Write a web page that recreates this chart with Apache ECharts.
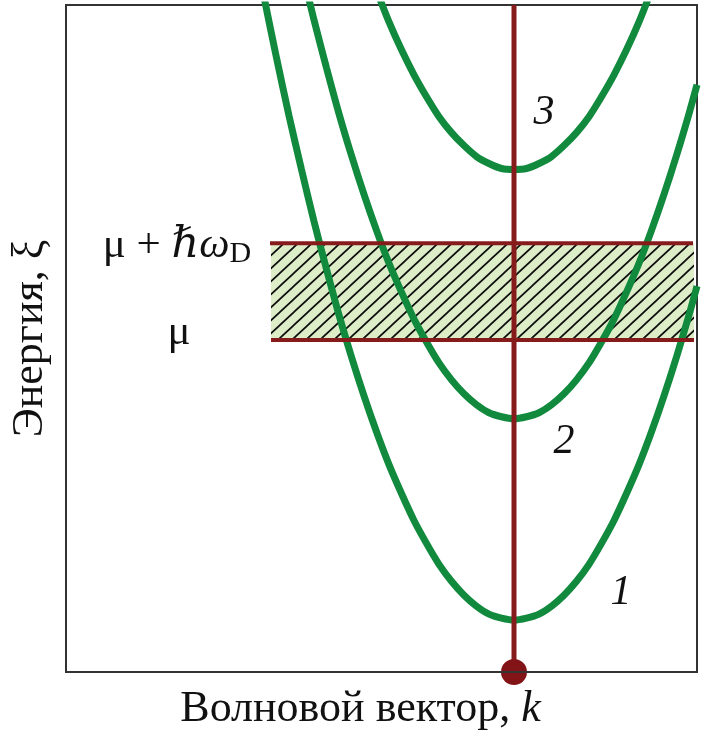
<!DOCTYPE html>
<html>
<head>
<meta charset="utf-8">
<script src="https://cdn.jsdelivr.net/npm/echarts@6/dist/echarts.min.js"></script>
<style>html,body{margin:0;padding:0;background:#fff}#c{width:704px;height:736px}</style>
</head>
<body>
<div id="c"></div>
<script>
// Wave vector k (arbitrary units, k = 0 at the vertical line) and energy ξ (arbitrary units)
const kRange = [-4.48, 1.83];
const energyRange = [0, 6.69];

// Dispersion branches: [k, ξ]
const branch1 = [[-2.5,6.77],[-2.375,6.16],[-2.25,5.58],[-2.125,5.04],[-2.0,4.52],[-1.875,4.04],[-1.75,3.58],[-1.625,3.16],[-1.5,2.77],[-1.375,2.41],[-1.25,2.08],[-1.125,1.79],[-1.0,1.52],[-0.875,1.29],[-0.75,1.08],[-0.625,0.91],[-0.5,0.77],[-0.375,0.66],[-0.25,0.58],[-0.125,0.54],[0,0.52],[0.125,0.54],[0.25,0.58],[0.375,0.66],[0.5,0.77],[0.625,0.91],[0.75,1.08],[0.875,1.29],[1.0,1.52],[1.125,1.79],[1.25,2.08],[1.375,2.41],[1.5,2.77],[1.625,3.16],[1.75,3.58],[1.83,3.87]];
const branch2 = [[-2.125,7.06],[-2.0,6.54],[-1.875,6.06],[-1.75,5.60],[-1.625,5.18],[-1.5,4.79],[-1.375,4.43],[-1.25,4.10],[-1.125,3.81],[-1.0,3.54],[-0.875,3.31],[-0.75,3.10],[-0.625,2.93],[-0.5,2.79],[-0.375,2.68],[-0.25,2.60],[-0.125,2.56],[0,2.54],[0.125,2.56],[0.25,2.60],[0.375,2.68],[0.5,2.79],[0.625,2.93],[0.75,3.10],[0.875,3.31],[1.0,3.54],[1.125,3.81],[1.25,4.10],[1.375,4.43],[1.5,4.79],[1.625,5.18],[1.75,5.60],[1.83,5.89]];
const branch3 = [[-1.5,7.18],[-1.375,6.84],[-1.25,6.52],[-1.125,6.24],[-1.0,5.99],[-0.875,5.77],[-0.75,5.57],[-0.625,5.41],[-0.5,5.28],[-0.375,5.17],[-0.25,5.10],[-0.125,5.05],[0,5.04],[0.125,5.05],[0.25,5.10],[0.375,5.17],[0.5,5.28],[0.625,5.41],[0.75,5.57],[0.875,5.77],[1.0,5.99],[1.125,6.24],[1.25,6.52],[1.375,6.84],[1.5,7.18]];

// Energy window μ … μ + ħω_D
const bandEnergy = [3.33, 4.30];
const bandK = [-2.43, 1.80];

// Texts and their anchor points [k, ξ]
const branchLabelPos = [[1.07, 0.79], [0.50, 2.31], [0.30, 5.61]];
const branchLabelText = ['1', '2', '3'];
const levelLabelPos = [[-3.37, 4.28], [-3.35, 3.40]];
const levelLabelText = ['{a|μ + }{h|ℏω}{s|D}', '{a|μ}'];
const xTitle = '{a|Волновой вектор, }{i|k}';
const yTitle = 'Энергия, ξ';

const SERIF = "'Liberation Serif', 'DejaVu Serif', 'Times New Roman', serif";
const GREEN = '#118a3e';
const RED = '#861b1b';
const INK = '#111';

// hatch pattern
const tile = document.createElement('canvas');
const tw = 14, th = 13;
tile.width = tw; tile.height = th;
const g = tile.getContext('2d');
g.fillStyle = '#dcedc8';
g.fillRect(0, 0, tw, th);
g.strokeStyle = '#0d0d0d';
g.lineWidth = 1.7;
g.beginPath();
for (let n = -1; n <= 1; n++) {
  g.moveTo(-tw + n * tw, 2 * th);
  g.lineTo(2 * tw + n * tw, -th);
}
g.stroke();
const hatch = { image: tile, repeat: 'repeat' };

const chart = echarts.init(document.getElementById('c'));
const greenLine = (data) => ({
  type: 'line', data, smooth: 0.3, showSymbol: false, symbol: 'none',
  lineStyle: { color: GREEN, width: 7 }, z: 3, silent: true
});
const textSeries = (pos, texts, style) => ({
  type: 'custom', z: 8, silent: true, clip: false,
  data: pos,
  renderItem: (params, api) => {
    const p = api.coord([api.value(0), api.value(1)]);
    return { type: 'text', x: p[0], y: p[1], style: Object.assign({ text: texts[params.dataIndex], align: 'center', verticalAlign: 'middle' }, style) };
  }
});

chart.setOption({
  animation: false,
  grid: { left: 66, top: 5, right: 7, bottom: 62, show: true, borderColor: '#333', borderWidth: 2, backgroundColor: '#fff' },
  xAxis: {
    type: 'value', min: kRange[0], max: kRange[1],
    axisLine: { show: false }, axisTick: { show: false }, axisLabel: { show: false }, splitLine: { show: false },
    name: xTitle, nameLocation: 'middle', nameGap: 15,
    nameTextStyle: {
      padding: [0, 42, 0, 0],
      rich: {
        a: { fontFamily: SERIF, fontSize: 44, color: INK },
        i: { fontFamily: SERIF, fontSize: 44, fontStyle: 'italic', color: INK }
      }
    }
  },
  yAxis: {
    type: 'value', min: energyRange[0], max: energyRange[1],
    axisLine: { show: false }, axisTick: { show: false }, axisLabel: { show: false }, splitLine: { show: false },
    name: yTitle, nameLocation: 'middle', nameGap: 14, nameRotate: 90,
    nameTextStyle: { fontFamily: SERIF, fontSize: 44, color: INK }
  },
  series: [
    {
      type: 'custom', z: 1, silent: true,
      data: [[bandK[0], bandK[1], bandEnergy[0], bandEnergy[1]]],
      encode: { x: [0, 1], y: [2, 3] },
      renderItem: (params, api) => {
        const p1 = api.coord([api.value(0), api.value(3)]);
        const p2 = api.coord([api.value(1), api.value(2)]);
        return { type: 'rect', shape: { x: p1[0], y: p1[1], width: p2[0] - p1[0], height: p2[1] - p1[1] }, style: { fill: hatch } };
      }
    },
    greenLine(branch1), greenLine(branch2), greenLine(branch3),
    { type: 'line', data: [[bandK[0] - 0.01, bandEnergy[1]], [bandK[1] - 0.01, bandEnergy[1]]], symbol: 'none', lineStyle: { color: RED, width: 4 }, z: 4, silent: true },
    { type: 'line', data: [[bandK[0], bandEnergy[0]], [bandK[1], bandEnergy[0]]], symbol: 'none', lineStyle: { color: RED, width: 4 }, z: 4, silent: true },
    { type: 'line', data: [[0, energyRange[0]], [0, energyRange[1]]], symbol: 'none', lineStyle: { color: RED, width: 5 }, z: 5, silent: true },
    { type: 'scatter', data: [[0, energyRange[0]]], symbol: 'circle', symbolSize: 26, itemStyle: { color: '#821417', opacity: 1 }, clip: false, z: 6, silent: true },
    { type: 'line', data: [[kRange[0], energyRange[0]], [kRange[1], energyRange[0]]], symbol: 'none', lineStyle: { color: '#333', width: 2 }, z: 7, silent: true },
    textSeries(branchLabelPos, branchLabelText, { fontFamily: SERIF, fontSize: 42, fontStyle: 'italic', fill: INK }),
    textSeries(levelLabelPos, levelLabelText, {
      fill: INK,
      rich: {
        a: { fontFamily: SERIF, fontSize: 43, fill: INK, lineHeight: 50 },
        h: { fontFamily: SERIF, fontSize: 43, fontStyle: 'italic', fill: INK, lineHeight: 50 },
        s: { fontFamily: SERIF, fontSize: 30, fill: INK, lineHeight: 50, padding: [18, 0, 0, 0] }
      }
    })
  ]
});
</script>
</body>
</html>
